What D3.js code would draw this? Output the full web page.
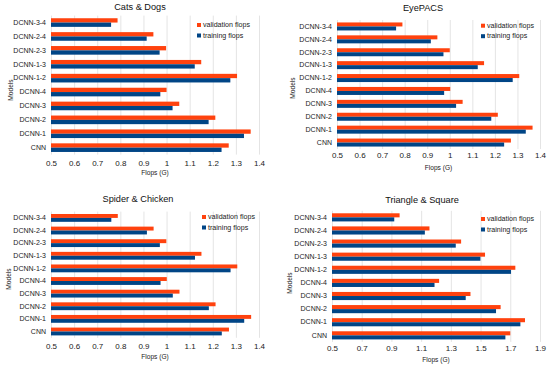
<!DOCTYPE html>
<html>
<head>
<meta charset="utf-8">
<script src="https://cdn.jsdelivr.net/npm/d3@7"></script>
<style>
  body { margin: 0; background: #fff; }
  svg { display: block; font-family: "Liberation Sans", Arial, sans-serif; }
  .grid line { stroke: #e4e4e4; stroke-width: 1; }
  .tick text { fill: #1a1a1a; }
</style>
</head>
<body>
<svg id="chart" width="550" height="367"></svg>
<script>
// categories, top to bottom
const models = ["DCNN-3-4", "DCNN-2-4", "DCNN-2-3", "DCNN-1-3", "DCNN-1-2",
                "DCNN-4", "DCNN-3", "DCNN-2", "DCNN-1", "CNN"];

// Cats & Dogs, EyePACS and Spider & Chicken read almost identically
const catsVal   = [0.788, 0.943, 0.998, 1.150, 1.305, 1.000, 1.055, 1.211, 1.364, 1.269];
const catsTrain = [0.760, 0.914, 0.970, 1.122, 1.276, 0.973, 1.026, 1.182, 1.335, 1.238];
const eyeVal    = [0.790, 0.945, 1.000, 1.152, 1.308, 1.002, 1.057, 1.213, 1.367, 1.271];
const eyeTrain  = [0.762, 0.916, 0.972, 1.124, 1.279, 0.975, 1.028, 1.184, 1.337, 1.241];
const spiderVal   = [0.789, 0.944, 0.999, 1.151, 1.306, 1.001, 1.056, 1.212, 1.366, 1.270];
const spiderTrain = [0.761, 0.915, 0.971, 1.123, 1.277, 0.974, 1.027, 1.183, 1.336, 1.239];
const triVal    = [0.955, 1.156, 1.369, 1.530, 1.734, 1.221, 1.432, 1.635, 1.799, 1.700];
const triTrain  = [0.919, 1.125, 1.333, 1.499, 1.705, 1.190, 1.400, 1.604, 1.768, 1.667];

const ticksSmall = [0.5, 0.6, 0.7, 0.8, 0.9, 1, 1.1, 1.2, 1.3, 1.4];
const ticksBig   = [0.5, 0.7, 0.9, 1.1, 1.3, 1.5, 1.7, 1.9];

const seriesNames = ["validation flops", "training flops"];
const colors = ["#ff420e", "#004586"];

// panel layout (pixel boxes)
const panels = [
    { title: "Cats & Dogs", val: catsVal, train: catsTrain, ticks: ticksSmall,
      x0: 51, x1: 259, y0: 15.6, y1: 154.6, titleY: 7, titleX: 140,
      tickY: 164, labY: 172, modelsX: 10, modelsY: 90, legX: 199, legY: 25 },
    { title: "EyePACS", val: eyeVal, train: eyeTrain, ticks: ticksSmall,
      x0: 337, x1: 540, y0: 20, y1: 149, titleY: 8, titleX: 423,
      tickY: 156, labY: 167, modelsX: 292, modelsY: 88, legX: 483, legY: 25.7 },
    { title: "Spider & Chicken", val: spiderVal, train: spiderTrain, ticks: ticksSmall,
      x0: 51, x1: 259, y0: 211.6, y1: 337.8, titleY: 199, titleX: 138,
      tickY: 347, labY: 356, modelsX: 8, modelsY: 279, legX: 204, legY: 217 },
    { title: "Triangle & Square", val: triVal, train: triTrain, ticks: ticksBig,
      x0: 332, x1: 540, y0: 210.8, y1: 341.9, titleY: 200, titleX: 422,
      tickY: 349, labY: 359, modelsX: 289, modelsY: 283, legX: 483, legY: 219 }
];

const svg = d3.select("#chart");

panels.forEach(p => drawPanel(svg, p));

function drawPanel(svg, p) {
    const g = svg.append("g");
    const lo = p.ticks[0], hi = p.ticks[p.ticks.length - 1];

    const x = d3.scaleLinear().domain([lo, hi]).range([p.x0, p.x1]);
    const y = d3.scaleBand().domain(models).range([p.y0, p.y1])
        .paddingInner(0.38).paddingOuter(0.19);
    const sub = d3.scaleBand().domain([0, 1]).range([0, y.bandwidth()]);

    // vertical grid
    g.append("g").attr("class", "grid")
        .selectAll("line").data(p.ticks).join("line")
        .attr("x1", d => x(d) + 0.5).attr("x2", d => x(d) + 0.5)
        .attr("y1", p.y0).attr("y2", p.y1);

    // bars
    const rows = models.map((m, i) => ({ m, v: [p.val[i], p.train[i]] }));
    g.append("g").selectAll("g").data(rows).join("g")
        .attr("transform", d => `translate(0,${y(d.m)})`)
        .selectAll("rect").data(d => d.v).join("rect")
        .attr("x", x(lo))
        .attr("y", (d, i) => sub(i))
        .attr("width", d => x(d) - x(lo))
        .attr("height", sub.bandwidth())
        .attr("fill", (d, i) => colors[i]);

    // x axis labels
    const xa = d3.axisBottom(x).tickValues(p.ticks).tickSize(0).tickPadding(0)
        .tickFormat(d3.format("~g"));
    g.append("g").attr("transform", `translate(0,${p.tickY - 4})`).call(xa)
        .call(a => a.select(".domain").remove())
        .selectAll("text").attr("font-size", 8).attr("dy", "0.71em");

    // y axis labels
    const ya = d3.axisLeft(y).tickSize(0).tickPadding(5);
    g.append("g").attr("transform", `translate(${p.x0},0)`).call(ya)
        .call(a => a.select(".domain").remove())
        .selectAll("text").attr("font-size", 7);

    // titles
    g.append("text").attr("x", p.titleX).attr("y", p.titleY)
        .attr("text-anchor", "middle").attr("dominant-baseline", "central")
        .attr("font-size", 9.2).attr("fill", "#111").text(p.title);
    g.append("text").attr("x", (p.x0 + p.x1) / 2).attr("y", p.labY)
        .attr("text-anchor", "middle").attr("dominant-baseline", "central")
        .attr("font-size", 6.6).attr("fill", "#222").text("Flops (G)");
    g.append("text")
        .attr("transform", `translate(${p.modelsX},${p.modelsY}) rotate(-90)`)
        .attr("text-anchor", "middle").attr("dominant-baseline", "central")
        .attr("font-size", 6.6).attr("fill", "#222").text("Models");

    // legend
    const leg = g.append("g");
    seriesNames.forEach((name, i) => {
        const ly = p.legY + i * 10.5;
        leg.append("rect").attr("x", p.legX - 2).attr("y", ly - 2)
            .attr("width", 4).attr("height", 4).attr("fill", colors[i]);
        leg.append("text").attr("x", p.legX + 4).attr("y", ly)
            .attr("dominant-baseline", "central")
            .attr("font-size", 7.1).attr("fill", "#222").text(name);
    });
}
</script>
</body>
</html>
